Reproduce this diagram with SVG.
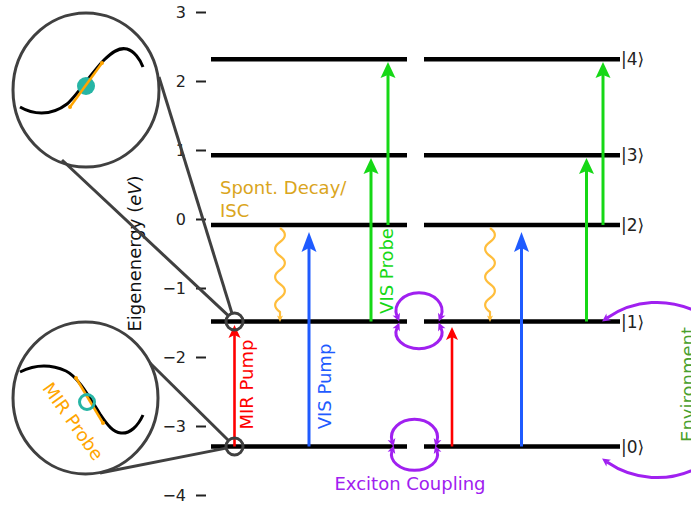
<svg xmlns="http://www.w3.org/2000/svg" width="691" height="507" viewBox="0 0 691 507">
<style>
text{font-family:"DejaVu Sans","Liberation Sans",sans-serif;}
.tick{font-size:16px;fill:#222;text-anchor:end;}
.tk{stroke:#222;stroke-width:2;}
.lvl{stroke:#000;stroke-width:4.5;fill:none;}
.klab{font-size:17px;fill:#222;}
.lab{font-size:18px;}
.gray{stroke:#404040;stroke-width:3;fill:none;}
.g{stroke:#16d816;stroke-width:3;fill:none;}
.b{stroke:#1f5bff;stroke-width:3;fill:none;}
.r{stroke:#ff0000;stroke-width:2.6;fill:none;}
.w{stroke:#ffbe3c;stroke-width:2.2;fill:none;}
.p{stroke:#a020f0;stroke-width:3;fill:none;}
</style>
<defs>
<marker id="hg" markerUnits="userSpaceOnUse" orient="auto" markerWidth="20" markerHeight="20" refX="0" refY="0" overflow="visible"><path d="M-3,-7.5 L13,0 L-3,7.5 L0,0 z" fill="#16d816"/></marker>
<marker id="hb" markerUnits="userSpaceOnUse" orient="auto" markerWidth="20" markerHeight="20" refX="0" refY="0" overflow="visible"><path d="M-4,-7.5 L16,0 L-4,7.5 L0,0 z" fill="#1f5bff"/></marker>
<marker id="hr" markerUnits="userSpaceOnUse" orient="auto" markerWidth="20" markerHeight="20" refX="0" refY="0" overflow="visible"><path d="M-3,-6 L10,0 L-3,6 L0,0 z" fill="#ff0000"/></marker>
<marker id="hw" markerUnits="userSpaceOnUse" orient="auto" markerWidth="10" markerHeight="10" refX="0" refY="0" overflow="visible"><path d="M-1.5,-3 L5,0 L-1.5,3 L0,0 z" fill="#ffbe3c"/></marker>
<marker id="hp" markerUnits="userSpaceOnUse" orient="auto-start-reverse" markerWidth="10" markerHeight="10" refX="0" refY="0" overflow="visible"><path d="M-2,-4 L6,0 L-2,4 L0,0 z" fill="#a020f0"/></marker>
</defs>

<g id="axis">
<line class="tk" x1="196" y1="12.5" x2="206" y2="12.5"/>
<line class="tk" x1="196" y1="81.5" x2="206" y2="81.5"/>
<line class="tk" x1="196" y1="150.5" x2="206" y2="150.5"/>
<line class="tk" x1="196" y1="219.5" x2="206" y2="219.5"/>
<line class="tk" x1="196" y1="288.5" x2="206" y2="288.5"/>
<line class="tk" x1="196" y1="357.5" x2="206" y2="357.5"/>
<line class="tk" x1="196" y1="426.5" x2="206" y2="426.5"/>
<line class="tk" x1="196" y1="495.5" x2="206" y2="495.5"/>
<text class="tick" x="186" y="18.3">3</text>
<text class="tick" x="186" y="87.3">2</text>
<text class="tick" x="186" y="156.3">1</text>
<text class="tick" x="186" y="225.3">0</text>
<text class="tick" x="186" y="294.3">−1</text>
<text class="tick" x="186" y="363.3">−2</text>
<text class="tick" x="186" y="432.3">−3</text>
<text class="tick" x="186" y="501.3">−4</text>
<text class="lab" transform="translate(141,253.5) rotate(-90)" text-anchor="middle" fill="#111">Eigenenergy (<tspan font-style="italic">eV</tspan>)</text>
</g>

<g id="levels">
<line class="lvl" x1="211" y1="59.3" x2="407" y2="59.3"/>
<line class="lvl" x1="424" y1="59.3" x2="620" y2="59.3"/>
<line class="lvl" x1="211" y1="155.3" x2="407" y2="155.3"/>
<line class="lvl" x1="424" y1="155.3" x2="620" y2="155.3"/>
<line class="lvl" x1="211" y1="225" x2="407" y2="225"/>
<line class="lvl" x1="424" y1="225" x2="620" y2="225"/>
<line class="lvl" x1="211" y1="321.5" x2="407" y2="321.5"/>
<line class="lvl" x1="424" y1="321.5" x2="620" y2="321.5"/>
<line class="lvl" x1="211" y1="446.5" x2="407" y2="446.5"/>
<line class="lvl" x1="424" y1="446.5" x2="620" y2="446.5"/>
<text class="klab" x="621" y="65.3">|4⟩</text>
<text class="klab" x="621" y="161.3">|3⟩</text>
<text class="klab" x="621" y="231">|2⟩</text>
<text class="klab" x="621" y="327.5">|1⟩</text>
<text class="klab" x="621" y="452.5">|0⟩</text>
</g>

<g id="connectors">
<line class="r" x1="234.5" y1="446.5" x2="234.5" y2="335" marker-end="url(#hr)"/>
<line class="r" x1="452" y1="446.5" x2="452" y2="337" marker-end="url(#hr)"/>
<line class="b" x1="309" y1="446.5" x2="309" y2="248" marker-end="url(#hb)"/>
<line class="b" x1="521.5" y1="446.5" x2="521.5" y2="248" marker-end="url(#hb)"/>
<line class="g" x1="371" y1="321.5" x2="371" y2="171" marker-end="url(#hg)"/>
<line class="g" x1="388" y1="225" x2="388" y2="75" marker-end="url(#hg)"/>
<line class="g" x1="586.5" y1="321.5" x2="586.5" y2="171" marker-end="url(#hg)"/>
<line class="g" x1="603" y1="225" x2="603" y2="75" marker-end="url(#hg)"/>
<path class="w" d="M280,228 c6.5,4.5 6.5,9.5 0,14 c-6.5,4.5 -6.5,9.5 0,14 c6.5,4.5 6.5,9.5 0,14 c-6.5,4.5 -6.5,9.5 0,14 c6.5,4.5 6.5,9.5 0,14 c-6.5,4.5 -6.5,9.5 0,14 l0,5" marker-end="url(#hw)"/>
<path class="w" d="M490,228 c6.5,4.5 6.5,9.5 0,14 c-6.5,4.5 -6.5,9.5 0,14 c6.5,4.5 6.5,9.5 0,14 c-6.5,4.5 -6.5,9.5 0,14 c6.5,4.5 6.5,9.5 0,14 c-6.5,4.5 -6.5,9.5 0,14 l0,5" marker-end="url(#hw)"/>
<path class="p" d="M397,316 A23,18 0 1 1 441,316" marker-start="url(#hp)" marker-end="url(#hp)"/>
<path class="p" d="M441,328 A23,16 0 1 1 397,328" marker-start="url(#hp)" marker-end="url(#hp)"/>
<path class="p" d="M392,441 A23,18 0 1 1 437,441" marker-start="url(#hp)" marker-end="url(#hp)"/>
<path class="p" d="M437,451 A23,16 0 1 1 392,451" marker-start="url(#hp)" marker-end="url(#hp)"/>
<path class="p" d="M607,318 A88,88 0 0 1 745,390" marker-start="url(#hp)"/>
<path class="p" d="M607,462 A88,88 0 0 0 745,390" marker-start="url(#hp)"/>
</g>

<g id="labels">
<text class="lab" x="220" y="194" fill="#daa520">Spont. Decay/</text>
<text class="lab" x="220" y="217" fill="#daa520">ISC</text>
<text class="lab" transform="translate(253,384.5) rotate(-90)" text-anchor="middle" fill="#ff0000">MIR Pump</text>
<text class="lab" transform="translate(331,386.5) rotate(-90)" text-anchor="middle" fill="#1f5bff">VIS Pump</text>
<text class="lab" transform="translate(393,271) rotate(-90)" text-anchor="middle" fill="#16d816">VIS Probe</text>
<text class="lab" transform="translate(694,384.5) rotate(-90)" text-anchor="middle" fill="#4aa02c">Environment</text>
<text class="lab" x="410" y="490" text-anchor="middle" fill="#a020f0">Exciton Coupling</text>
</g>

<g id="zoom-top">
<line class="gray" x1="159" y1="77" x2="232" y2="313.4"/>
<line class="gray" x1="62" y1="160" x2="228.3" y2="315.7"/>
<ellipse class="gray" cx="86" cy="90" rx="73" ry="77"/>
<circle class="gray" cx="234.5" cy="321.5" r="8.5" stroke-width="2.5"/>
<path d="M20,107 C32,114 50,117 67,104 C76,97 92,72 104,60 C112,52 119,47 127,49 C134,51 140,59 143,67" stroke="#000" stroke-width="3" fill="none"/>
<circle cx="86" cy="86" r="9" fill="#26b5a5"/>
<line x1="70" y1="107" x2="102" y2="63" stroke="#ffa500" stroke-width="2.5"/>
<circle cx="70" cy="107" r="2" fill="#ffa500"/>
<circle cx="102" cy="63" r="2" fill="#ffa500"/>
</g>

<g id="zoom-bottom">
<line class="gray" x1="150" y1="363" x2="228.5" y2="440.5"/>
<line class="gray" x1="100" y1="473" x2="226.2" y2="448.1"/>
<ellipse class="gray" cx="85.5" cy="398" rx="72.5" ry="76"/>
<circle class="gray" cx="234.5" cy="446.5" r="8.5" stroke-width="2.5"/>
<path d="M20,372 C32,366 48,363 66,371 C78,377 88,395 100,414 C108,426 113,432 121,433 C130,434 138,426 143,415" stroke="#000" stroke-width="3" fill="none"/>
<line x1="76" y1="378" x2="103" y2="423" stroke="#ffa500" stroke-width="2.5"/>
<circle cx="76" cy="378" r="2" fill="#ffa500"/>
<circle cx="103" cy="423" r="2" fill="#ffa500"/>
<circle cx="87" cy="402" r="7.5" fill="none" stroke="#26b5a5" stroke-width="3"/>
<text class="lab" transform="translate(68,425) rotate(54.5)" text-anchor="middle" fill="#ffa500">MIR Probe</text>
</g>
</svg>
